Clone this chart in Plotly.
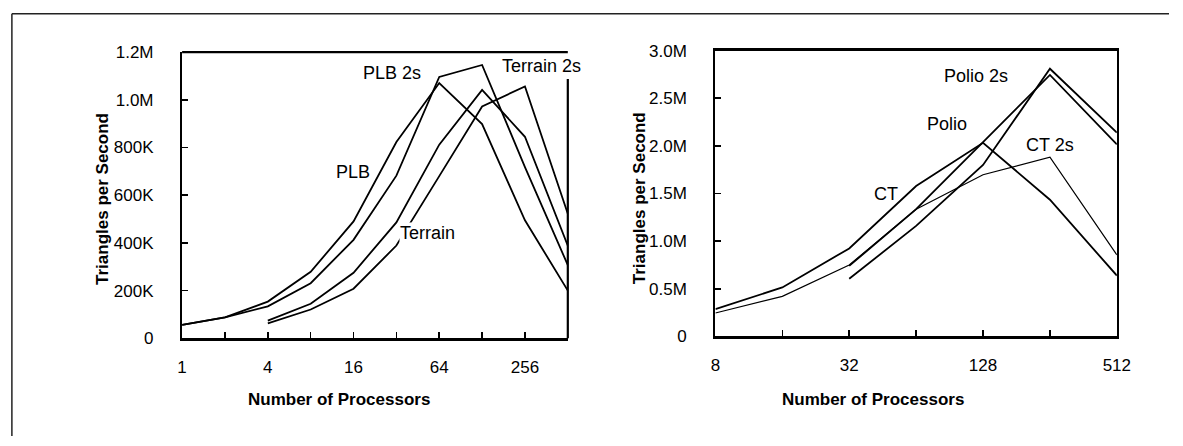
import math
import plotly.graph_objects as go

# ---------------- data ----------------
procs_left = [1, 2, 4, 8, 16, 32, 64, 128, 256, 512]
procs_terrain = [4, 8, 16, 32, 64, 128, 256, 512]
plb = [56e3, 88e3, 154e3, 279e3, 490e3, 823e3, 1070e3, 898e3, 495e3, 200e3]
plb_2s = [56e3, 88e3, 134e3, 231e3, 413e3, 682e3, 1096e3, 1146e3, 718e3, 307e3]
terrain = [74e3, 145e3, 275e3, 486e3, 812e3, 1041e3, 845e3, 388e3]
terrain_2s = [63e3, 121e3, 208e3, 389e3, 680e3, 972e3, 1056e3, 522e3]

procs_ct = [8, 16, 32, 64, 128, 256, 512]
procs_polio = [32, 64, 128, 256, 512]
ct = [0.286e6, 0.514e6, 0.924e6, 1.579e6, 2.033e6, 1.435e6, 0.639e6]
ct_2s = [0.246e6, 0.420e6, 0.750e6, 1.335e6, 1.697e6, 1.881e6, 0.857e6]
polio = [0.740e6, 1.337e6, 2.040e6, 2.745e6, 2.015e6]
polio_2s = [0.605e6, 1.160e6, 1.800e6, 2.810e6, 2.140e6]

left_xticks = [1, 2, 4, 8, 16, 32, 64, 128, 256, 512]
left_xtext = ["1", "", "4", "", "16", "", "64", "", "256", ""]
right_xticks = [8, 16, 32, 64, 128, 256, 512]
right_xtext = ["8", "", "32", "", "128", "", "512"]
left_yticks = [0, 200e3, 400e3, 600e3, 800e3, 1000e3, 1200e3]
left_ytext = ["0", "200K", "400K", "600K", "800K", "1.0M", "1.2M"]
right_yticks = [0, 0.5e6, 1.0e6, 1.5e6, 2.0e6, 2.5e6, 3.0e6]
right_ytext = ["0", "0.5M", "1.0M", "1.5M", "2.0M", "2.5M", "3.0M"]

# ---------------- layout helpers ----------------
W, H = 1183, 446
FONT = "Liberation Sans, Arial, Helvetica, sans-serif"


def px_x(p):                 # page pixel -> paper fraction
    return p / W


def px_y(p):
    return 1 - p / H


fig = go.Figure()


def add(x, y, xa, ya, width=1.8):
    fig.add_trace(go.Scatter(x=x, y=y, mode="lines", xaxis=xa, yaxis=ya,
                             line=dict(color="black", width=width),
                             showlegend=False, hoverinfo="skip"))


add(procs_left, plb, "x", "y")
add(procs_left, plb_2s, "x", "y")
add(procs_terrain, terrain, "x", "y")
add(procs_terrain, terrain_2s, "x", "y")

add(procs_ct, ct, "x2", "y2")
add(procs_ct, ct_2s, "x2", "y2", width=1.2)
add(procs_polio, polio, "x2", "y2")
add(procs_polio, polio_2s, "x2", "y2")

axis_common = dict(showgrid=False, zeroline=False, showline=True, linecolor="black",
                   linewidth=2.2, ticks="inside", tickcolor="black", ticklen=6, tickwidth=1.6,
                   tickfont=dict(family=FONT, size=17, color="black"))

fig.update_layout(
    width=W, height=H,
    margin=dict(l=0, r=0, t=0, b=0),
    paper_bgcolor="white", plot_bgcolor="white",
    xaxis=dict(axis_common, type="log", domain=[px_x(180), px_x(572)],
               range=[0, math.log10(512)], tickvals=left_xticks, ticktext=left_xtext,
               anchor="y", ticklabelstandoff=12),
    yaxis=dict(axis_common, domain=[px_y(344), px_y(45)], range=[0, 1.2e6],
               tickvals=left_yticks, ticktext=left_ytext, anchor="x",
               ticklabelstandoff=23),
    xaxis2=dict(axis_common, type="log", domain=[px_x(722), px_x(1130)],
                range=[math.log10(8), math.log10(512)], tickvals=right_xticks,
                ticktext=right_xtext, anchor="y2", ticklabelstandoff=12, mirror=True),
    yaxis2=dict(axis_common, domain=[px_y(342), px_y(43.5)], range=[0, 3.0e6],
                tickvals=right_yticks, ticktext=right_ytext, anchor="x2",
                ticklabelstandoff=23, mirror=True),
)

shapes = []
# left chart: top border and partial right border
shapes.append(dict(type="line", xref="x domain", yref="y domain", x0=0, x1=1, y0=1, y1=1,
                   line=dict(color="black", width=2.2)))
shapes.append(dict(type="line", xref="x domain", yref="y domain", x0=1, x1=1, y0=0, y1=0.906,
                   line=dict(color="black", width=2.2)))
# outer frame (top and left edges)
shapes.append(dict(type="line", xref="paper", yref="paper", x0=px_x(7), x1=1, y0=px_y(5), y1=px_y(5),
                   line=dict(color="#222", width=1.5)))
shapes.append(dict(type="line", xref="paper", yref="paper", x0=px_x(7), x1=px_x(7), y0=0, y1=px_y(5),
                   line=dict(color="#222", width=1.5)))
fig.update_layout(shapes=shapes)

ann = []


def label(text, x, y, size=18, bold=False, angle=0, bg=None):
    d = dict(text=("<b>%s</b>" % text) if bold else text, xref="paper", yref="paper",
             x=px_x(x), y=px_y(y), xanchor="center", yanchor="middle", showarrow=False,
             textangle=angle, font=dict(family=FONT, size=size, color="black"), borderpad=0)
    if bg:
        d["bgcolor"] = bg
    ann.append(d)


# series labels
label("PLB 2s", 393, 67)
label("Terrain 2s", 545, 60)
label("PLB", 354, 170)
label("Terrain", 429, 234, bg="white")
label("Polio 2s", 987, 70)
label("Polio", 957, 120)
label("CT 2s", 1062, 142)
label("CT", 895, 193)

# axis titles
label("Number of Processors", 339, 408, size=17, bold=True)
label("Number of Processors", 882, 408, size=17, bold=True)
label("Triangles per Second", 99, 198, size=17, bold=True, angle=-90)
label("Triangles per Second", 645, 198, size=17, bold=True, angle=-90)

fig.update_layout(annotations=ann)

fig.write_html(
    "out.html",
    config={"displayModeBar": False, "staticPlot": True},
    post_script="document.documentElement.style.margin='0';document.body.style.margin='0';"
                "document.documentElement.style.overflow='hidden';document.body.style.overflow='hidden';",
)
